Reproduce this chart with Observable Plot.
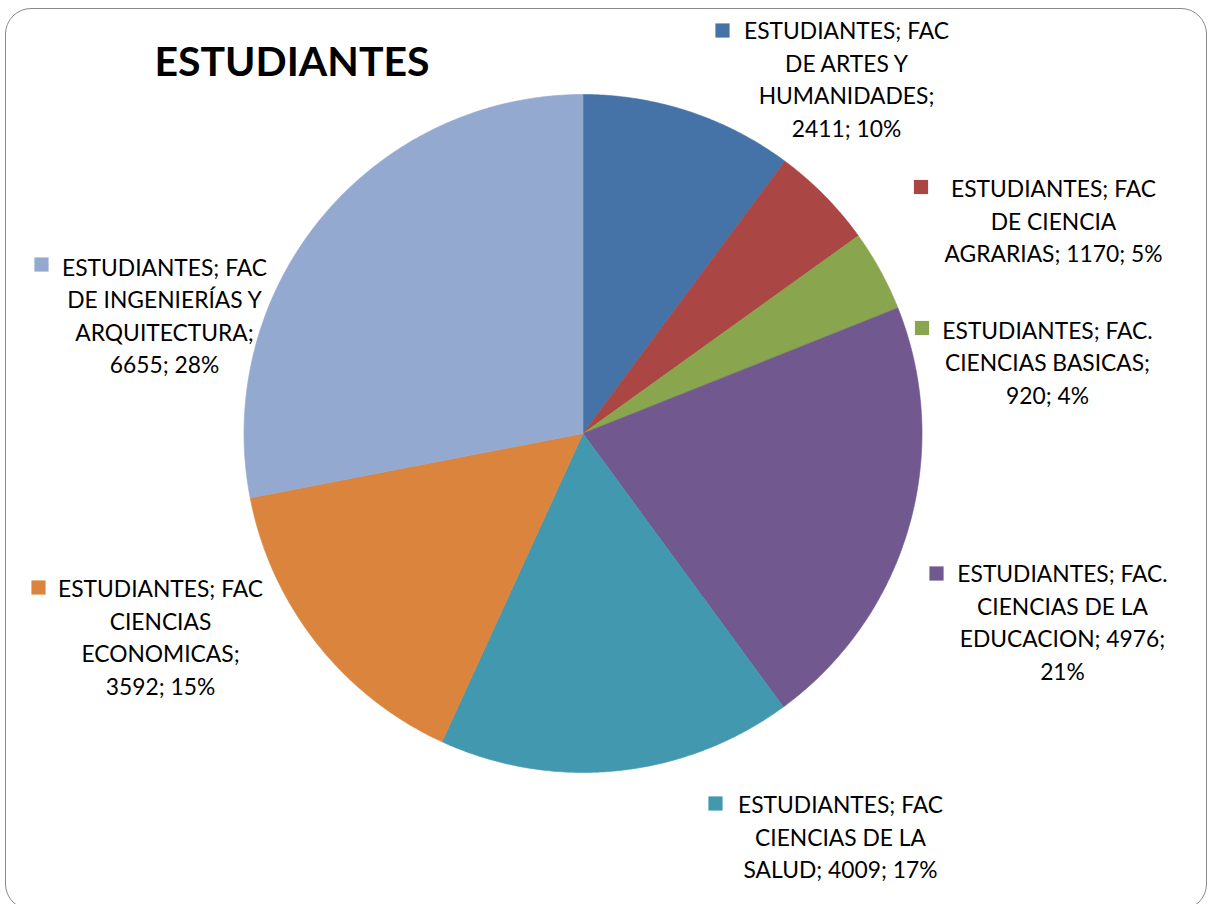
<!DOCTYPE html>
<html>
<head>
<meta charset="utf-8">
<script src="https://cdn.jsdelivr.net/npm/d3@7"></script>
<script src="https://cdn.jsdelivr.net/npm/@observablehq/plot@0.6"></script>
<style>
  html, body { margin: 0; padding: 0; background: #fff; }
  #wrap { position: relative; width: 1208px; height: 904px; overflow: hidden; }
  #frame { position: absolute; left: 5px; top: 8px; width: 1200px; height: 900px;
           border: 1.5px solid #8a8a8a; border-radius: 26px; pointer-events: none; }
</style>
</head>
<body>
<div id="wrap"><div id="chart"></div><div id="frame"></div></div>
<script>
// ---- data ----
const categories = [
  "FAC DE ARTES Y HUMANIDADES",
  "FAC DE CIENCIA AGRARIAS",
  "FAC. CIENCIAS BASICAS",
  "FAC. CIENCIAS DE LA EDUCACION",
  "FAC CIENCIAS DE LA SALUD",
  "FAC CIENCIAS ECONOMICAS",
  "FAC DE INGENIERÍAS Y ARQUITECTURA"
];
const students = [2411, 1170, 920, 4976, 4009, 3592, 6655];
const percents = ["10%", "5%", "4%", "21%", "17%", "15%", "28%"];
const labelTexts = [
  "ESTUDIANTES; FAC\nDE ARTES Y\nHUMANIDADES;\n2411; 10%",
  "ESTUDIANTES; FAC\nDE CIENCIA\nAGRARIAS; 1170; 5%",
  "ESTUDIANTES; FAC.\nCIENCIAS BASICAS;\n920; 4%",
  "ESTUDIANTES; FAC.\nCIENCIAS DE LA\nEDUCACION; 4976;\n21%",
  "ESTUDIANTES; FAC\nCIENCIAS DE LA\nSALUD; 4009; 17%",
  "ESTUDIANTES; FAC\nCIENCIAS\nECONOMICAS;\n3592; 15%",
  "ESTUDIANTES; FAC\nDE INGENIERÍAS Y\nARQUITECTURA;\n6655; 28%"
];
const colors = ["#4572A7", "#AA4643", "#89A54E", "#71588F", "#4198AF", "#DB843D", "#93A9CF"];
const title = "ESTUDIANTES";

// ---- layout (pixel positions of the Excel layout) ----
const W = 1208, H = 904, CX = 582.5, CY = 433, R = 339;
// label block centres and marker centres, in pixels
const labelCenters = [[846, 77], [1053, 219], [1047, 360.5], [1062, 620], [840, 835], [160, 635], [164, 313.5]];
const markerCenters = [[722, 30], [920.5, 186.5], [921.5, 327.5], [936, 573], [715, 803], [38, 587], [41, 264]];

// convert pixel layout to chart units (radius = 1, y up)
const toU = ([px, py]) => [(px - CX) / R, (CY - py) / R];

// ---- pie geometry ----
const pie = d3.pie().sort(null).value(d => d.value).startAngle(0).endAngle(2 * Math.PI);
const rows = categories.map((c, i) => ({name: c, value: students[i], pct: percents[i], label: labelTexts[i]}));
const arcs = pie(rows);
const slicePts = [];
arcs.forEach(a => {
  slicePts.push({name: a.data.name, x: 0, y: 0});
  const n = Math.max(2, Math.ceil((a.endAngle - a.startAngle) / (Math.PI / 360)));
  for (let k = 0; k <= n; k++) {
    const t = a.startAngle + (a.endAngle - a.startAngle) * k / n;
    slicePts.push({name: a.data.name, x: Math.sin(t), y: Math.cos(t)});
  }
  slicePts.push({name: a.data.name, x: 0, y: 0});
});
const labels = rows.map((r, i) => {
  const [x, y] = toU(labelCenters[i]);
  const [mx, my] = toU(markerCenters[i]);
  return {...r, x, y, mx, my};
});

const chart = Plot.plot({
  width: W, height: H,
  margin: 0,
  x: {domain: [-CX / R, (W - CX) / R], range: [0, W], axis: null},
  y: {domain: [(CY - H) / R, CY / R], range: [H, 0], axis: null},
  color: {domain: categories, range: colors},
  style: {fontFamily: "Lato, sans-serif", background: "transparent"},
  marks: [
    Plot.line(slicePts, {x: "x", y: "y", z: "name", fill: "name", stroke: "name", strokeWidth: 0.6, curve: "linear"}),
    Plot.dot(labels, {x: "mx", y: "my", fill: "name", symbol: "square", r: 8, stroke: null}),
    Plot.text(labels, {x: "x", y: "y", text: "label", fontSize: 22.8, lineHeight: 1.425,
      fontFamily: "Lato, sans-serif",
      textAnchor: "middle", lineAnchor: "middle", fill: "#000"}),
    Plot.text([title], {frameAnchor: "top-left", dx: 291.5, dy: 62, text: d => d, fontSize: 41,
      fontFamily: "Lato, sans-serif", fontWeight: "bold", textAnchor: "middle", lineAnchor: "middle", fill: "#000"})
  ]
});
document.getElementById("chart").appendChild(chart);
</script>
</body>
</html>
